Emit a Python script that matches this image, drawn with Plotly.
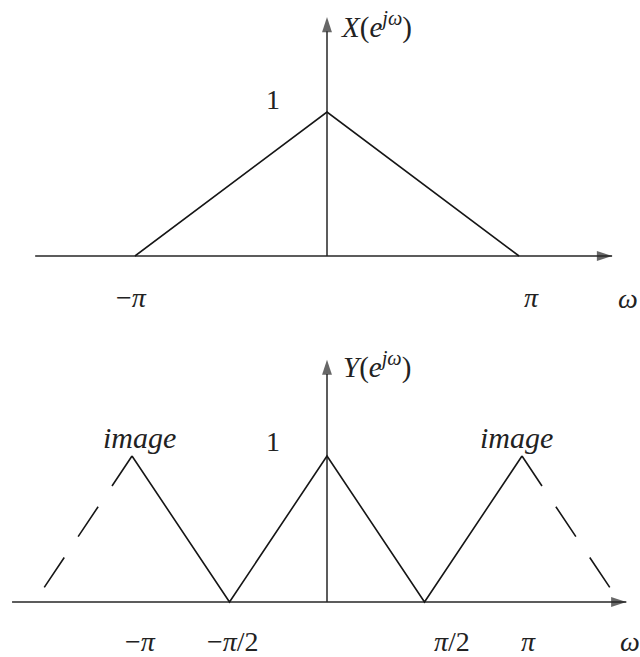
import plotly.graph_objects as go

# Frequency axis is measured in multiples of pi.
# Original spectrum X(e^{jw}): triangle on [-pi, pi]
x_top = [-1.0, 0.0, 1.0]
y_top = [0.0, 1.0, 0.0]

# Upsampled spectrum Y(e^{jw}): compressed triangles, solid in [-pi, pi]
x_bot = [-1.0, -0.5, 0.0, 0.5, 1.0]
y_bot = [1.0, 0.0, 1.0, 0.0, 1.0]

# Outer halves of the image triangles (dashed)
x_img_left = [-1.0, -1.5]
y_img_left = [1.0, 0.0]
x_img_right = [1.0, 1.5]
y_img_right = [1.0, 0.0]

top_ticks = [-1.0, 1.0]
top_ticktext = ["−<i>π</i>", "<i>π</i>"]
bot_ticks = [-1.0, -0.5, 0.5, 1.0]
bot_ticktext = ["−<i>π</i>", "−<i>π</i>/2", "<i>π</i>/2", "<i>π</i>"]

# ---- page geometry (pixels) ----
W, H = 640, 657
SPLIT = 330           # row separating the two panels
X0 = 327              # column of the vertical axes
TOP_BASE, TOP_UNIT, TOP_PI = 256, 144, 192
BOT_BASE, BOT_UNIT, BOT_PI = 602, 146, 195

top_xr = [-X0 / TOP_PI, (W - X0) / TOP_PI]
top_yr = [-(SPLIT - TOP_BASE) / TOP_UNIT, TOP_BASE / TOP_UNIT]
bot_xr = [-X0 / BOT_PI, (W - X0) / BOT_PI]
bot_yr = [-(H - BOT_BASE) / BOT_UNIT, (BOT_BASE - SPLIT) / BOT_UNIT]

# axis extents in data units (end of the shaft, the head sits on it)
TOP_HAX = (-1.52, 1.485)
TOP_VAX = 1.66
BOT_HAX = (-1.615, 1.535)
BOT_VAX = 1.66

INK = "#161616"
TXT = "#222222"
AXC = "#262626"
FONT = "Liberation Serif"
LW = 1.6

fig = go.Figure()
line = dict(color=INK, width=LW)


def axis_arrow(xs, ys, xa, ya, angle):
    fig.add_trace(go.Scatter(
        x=xs, y=ys, mode="lines+markers", xaxis=xa, yaxis=ya, hoverinfo="skip",
        line=dict(color=AXC, width=1.5),
        marker=dict(symbol="arrow", angle=angle, size=[0, 16], color=AXC,
                    line=dict(width=0))))


# axes with arrowheads
axis_arrow(list(TOP_HAX), [0, 0], "x", "y", 90)
axis_arrow([0, 0], [0, TOP_VAX], "x", "y", 0)
axis_arrow(list(BOT_HAX), [0, 0], "x2", "y2", 90)
axis_arrow([0, 0], [0, BOT_VAX], "x2", "y2", 0)

fig.add_trace(go.Scatter(x=x_top, y=y_top, mode="lines", line=line,
                         xaxis="x", yaxis="y", hoverinfo="skip"))
fig.add_trace(go.Scatter(x=x_bot, y=y_bot, mode="lines", line=line,
                         xaxis="x2", yaxis="y2", hoverinfo="skip"))
for xs, ys in [(x_img_left, y_img_left), (x_img_right, y_img_right)]:
    fig.add_trace(go.Scatter(x=xs, y=ys, mode="lines",
                             line=dict(color=INK, width=LW, dash="36px,25px"),
                             xaxis="x2", yaxis="y2", hoverinfo="skip"))

ann = []


def label(xr, yr, x, y, text, dx=0, dy=0, size=28, xanchor="center"):
    ann.append(dict(xref=xr, yref=yr, x=x, y=y, text=text, showarrow=False,
                    xanchor=xanchor, yanchor="middle", xshift=dx, yshift=dy,
                    font=dict(family=FONT, size=size, color=TXT)))


# top panel text
top_dx = [-4, 12]
for t, s, d in zip(top_ticks, top_ticktext, top_dx):
    label("x", "y", t, 0, s, dx=d, dy=-41)
label("x", "y", 1.516, 0, "<i>ω</i>", dx=10, dy=-42)
label("x", "y", 0, 1, "1", dx=-54, dy=13)
label("x", "y", 0, 1.708, "<i>X</i>(<i>e</i><sup><i>jω</i></sup>)",
      dx=12, dy=-15, size=29, xanchor="left")

# bottom panel text
bot_dx = [8, 3, 27, 6]
for t, s, d in zip(bot_ticks, bot_ticktext, bot_dx):
    label("x2", "y2", t, 0, s, dx=d, dy=-39)
label("x2", "y2", 1.565, 0, "<i>ω</i>", dx=-2, dy=-39)
label("x2", "y2", 0, 1, "1", dx=-54, dy=15)
label("x2", "y2", 0, 1.712, "<i>Y</i>(<i>e</i><sup><i>jω</i></sup>)",
      dx=14, dy=-13, size=29, xanchor="left")
label("x2", "y2", x_img_left[0], y_img_left[0], "<i>image</i>", dx=7, dy=19, size=30)
label("x2", "y2", x_img_right[0], y_img_right[0], "<i>image</i>", dx=-6, dy=19, size=30)

hidden = dict(visible=False, showgrid=False, zeroline=False, fixedrange=True)
split = 1 - SPLIT / H
fig.update_layout(
    width=W, height=H, margin=dict(l=0, r=0, t=0, b=0),
    paper_bgcolor="white", plot_bgcolor="white", showlegend=False,
    xaxis=dict(hidden, domain=[0, 1], range=top_xr, anchor="y"),
    yaxis=dict(hidden, domain=[split, 1], range=top_yr, anchor="x"),
    xaxis2=dict(hidden, domain=[0, 1], range=bot_xr, anchor="y2"),
    yaxis2=dict(hidden, domain=[0, split], range=bot_yr, anchor="x2"),
    annotations=ann,
)

fig.write_html("out.html", config={"displayModeBar": False})
